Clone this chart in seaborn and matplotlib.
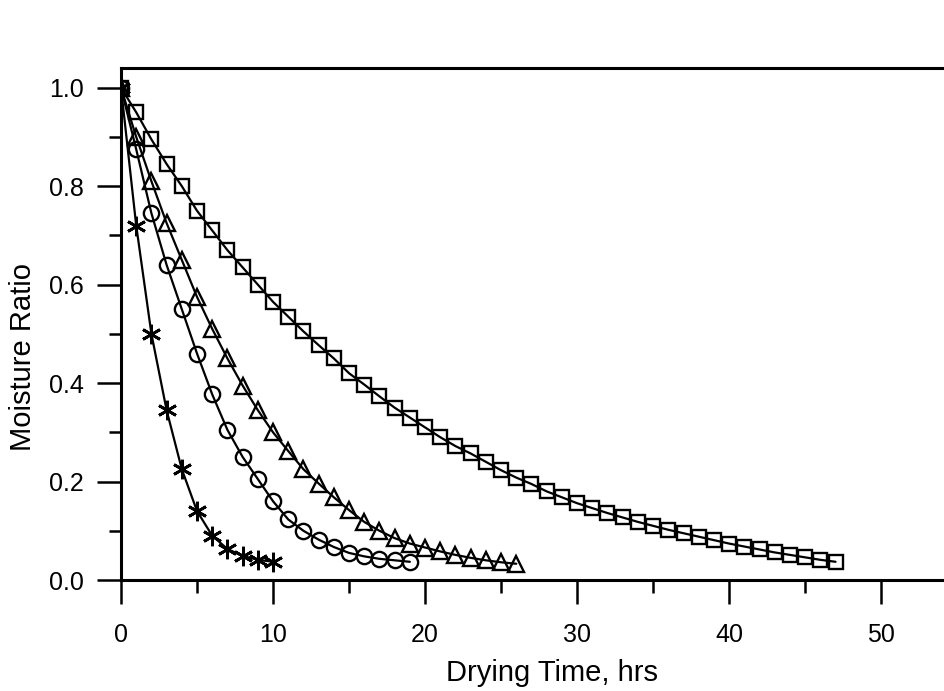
import numpy as np
import pandas as pd
import matplotlib
matplotlib.use("Agg")
import matplotlib.pyplot as plt
from matplotlib.ticker import MultipleLocator
import seaborn as sns

# ------------------------------------------------------------------
# Data (moisture ratio vs drying time)
# ------------------------------------------------------------------
star_t = list(range(0, 11))
star_mr = [1.0, 0.72, 0.50, 0.345, 0.225, 0.14, 0.09, 0.063, 0.049, 0.041, 0.037]

circle_t = list(range(0, 20))
circle_mr = [1.0, 0.875, 0.745, 0.64, 0.55, 0.46, 0.377, 0.305, 0.25, 0.205,
             0.16, 0.123, 0.10, 0.082, 0.067, 0.055, 0.048, 0.043, 0.04, 0.037]

tri_t = list(range(0, 27))
tri_mr = [1.0, 0.90, 0.81, 0.725, 0.65, 0.575, 0.51, 0.45, 0.395, 0.345,
          0.30, 0.262, 0.225, 0.196, 0.168, 0.142, 0.118, 0.10, 0.085, 0.074,
          0.066, 0.058, 0.051, 0.045, 0.040, 0.036, 0.033]

square_t = list(range(0, 48))
square_mr = [1.0, 0.95, 0.895, 0.845, 0.80, 0.75, 0.71, 0.67, 0.635, 0.60,
             0.565, 0.535, 0.505, 0.477, 0.45, 0.42, 0.397, 0.373, 0.35, 0.33,
             0.31, 0.29, 0.272, 0.257, 0.24, 0.223, 0.208, 0.195, 0.18, 0.168,
             0.156, 0.146, 0.136, 0.127, 0.118, 0.11, 0.102, 0.095, 0.088, 0.081,
             0.074, 0.068, 0.062, 0.056, 0.051, 0.046, 0.041, 0.037]

X_TICKS = [0, 10, 20, 30, 40, 50]
Y_TICKS = [0.0, 0.2, 0.4, 0.6, 0.8, 1.0]

# ------------------------------------------------------------------
# Style
# ------------------------------------------------------------------
sns.set_theme(style="ticks")
plt.rcParams["font.family"] = ["Liberation Sans", "DejaVu Sans"]

fig = plt.figure(figsize=(9.44, 6.91), dpi=100)
# axes run past the right edge of the picture like in the scan
ax = fig.add_axes([121 / 944, 111 / 691, 862 / 944, 512 / 691])

# (x, y, marker, size, edge width)
series = [
    (star_t, star_mr, (6, 2, 0), 14, 2.0),
    (circle_t, circle_mr, "o", 11, 1.7),
    (tri_t, tri_mr, "^", 11.5, 1.7),
    (square_t, square_mr, "s", 10.5, 1.7),
]
for t, mr, mk, ms, mew in series:
    df = pd.DataFrame({"t": t, "mr": mr})
    sns.lineplot(
        data=df, x="t", y="mr", ax=ax,
        color="black", linewidth=1.6,
        marker=mk, markersize=ms,
        markerfacecolor="none", markeredgecolor="black",
        markeredgewidth=mew,
    )

ax.set_xlim(0, 56.7)
ax.set_ylim(0, 1.04)
ax.set_xticks(X_TICKS)
ax.set_yticks(Y_TICKS)
ax.set_yticklabels([f"{v:.1f}" for v in Y_TICKS])
ax.xaxis.set_minor_locator(MultipleLocator(5))
ax.yaxis.set_minor_locator(MultipleLocator(0.1))

ax.tick_params(axis="both", which="major", direction="out", length=17,
               width=1.8, labelsize=18, color="black", labelcolor="black")
ax.tick_params(axis="both", which="minor", direction="out", length=9,
               width=1.8, color="black")
ax.tick_params(axis="x", which="major", pad=14)
ax.tick_params(axis="y", which="major", pad=10)

for side in ["left", "bottom", "top"]:
    ax.spines[side].set_linewidth(2.2)
    ax.spines[side].set_color("black")
ax.spines["right"].set_visible(False)
ax.spines["top"].set_visible(True)

ax.set_xlabel("Drying Time, hrs", fontsize=21, color="black")
ax.set_ylabel("Moisture Ratio", fontsize=21, color="black")
ax.xaxis.set_label_coords(0.5, -0.155)
ax.yaxis.set_label_coords(-0.097, 0.435)

fig.savefig("out.png", dpi=100)
plt.close(fig)
